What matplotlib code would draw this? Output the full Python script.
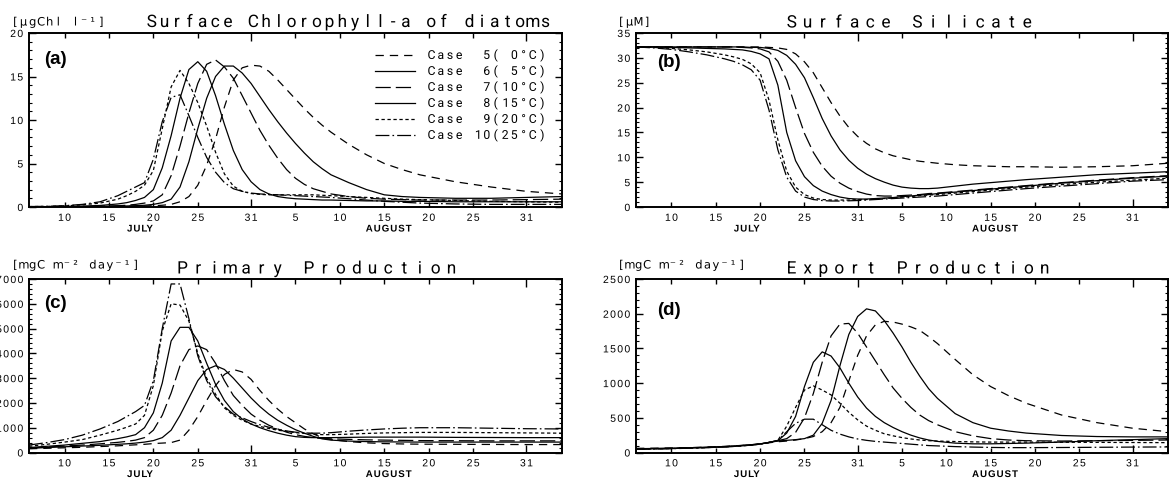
import numpy as np
import matplotlib
matplotlib.use('Agg')
import matplotlib.pyplot as plt
from matplotlib.patheffects import AbstractPathEffect
from matplotlib.textpath import TextPath
from matplotlib.path import Path
from matplotlib.font_manager import FontProperties
from matplotlib.ticker import MultipleLocator, FixedLocator, FixedFormatter

plt.rcParams['lines.scale_dashes'] = False
plt.rcParams['font.family'] = ['Liberation Sans', 'DejaVu Sans']

# ---------------- data (day counted from 1 July; 1 Aug = 32) ----------------
DAYS = [6, 8, 10, 12, 14, 16, 17, 18, 19, 20,
        21, 22, 23, 24, 25, 26, 27, 28, 29, 30,
        31, 32, 33, 34, 35, 36, 37, 38, 39, 40,
        42, 44, 46, 48, 50, 54, 58, 62, 66]

CASE_LABELS = ['Case  5( 0°C)', 'Case  6( 5°C)', 'Case  7(10°C)',
               'Case  8(15°C)', 'Case  9(20°C)', 'Case 10(25°C)']

# (a) surface chlorophyll-a of diatoms [ugChl/l]
CHL_C5 = [0.02, 0.02, 0.03, 0.04, 0.05, 0.07, 0.08, 0.10, 0.12, 0.15,
          0.2, 0.3, 0.6, 1.2, 2.5, 4.8, 7.8, 11.5, 14.6, 16.0,
          16.3, 16.2, 15.6, 14.6, 13.5, 12.4, 11.3, 10.3, 9.4, 8.6,
          7.2, 6.0, 5.0, 4.3, 3.7, 2.9, 2.3, 1.8, 1.5]
CHL_C6 = [0.02, 0.02, 0.03, 0.05, 0.07, 0.10, 0.12, 0.15, 0.2, 0.3,
          0.5, 0.9, 2.3, 5.2, 9.0, 12.5, 15.0, 16.2, 16.2, 15.4,
          14.2, 12.7, 11.2, 9.8, 8.5, 7.3, 6.2, 5.2, 4.4, 3.7,
          2.8, 2.0, 1.4, 1.2, 1.1, 1.0, 1.0, 1.1, 1.2]
CHL_C7 = [0.02, 0.03, 0.04, 0.06, 0.10, 0.15, 0.2, 0.3, 0.45, 0.7,
          1.4, 3.6, 7.0, 10.8, 14.2, 16.4, 16.9, 16.1, 14.8, 12.8,
          10.8, 8.8, 7.1, 5.6, 4.3, 3.3, 2.6, 2.1, 1.8, 1.5,
          1.2, 1.0, 0.9, 0.85, 0.8, 0.8, 0.8, 0.85, 0.9]
CHL_C8 = [0.03, 0.04, 0.06, 0.10, 0.18, 0.35, 0.5, 0.75, 1.1, 2.0,
          4.5, 8.2, 12.5, 15.8, 16.7, 15.6, 12.8, 9.5, 6.5, 4.3,
          2.9, 2.0, 1.5, 1.2, 1.05, 0.95, 0.9, 0.85, 0.8, 0.8,
          0.75, 0.7, 0.7, 0.65, 0.65, 0.6, 0.6, 0.6, 0.6]
CHL_C9 = [0.05, 0.07, 0.12, 0.25, 0.45, 0.9, 1.3, 1.8, 2.5, 4.2,
          9.0, 13.8, 15.7, 14.2, 12.0, 9.3, 6.3, 3.8, 2.4, 1.8,
          1.55, 1.45, 1.4, 1.4, 1.4, 1.4, 1.4, 1.4, 1.35, 1.3,
          1.2, 1.1, 1.0, 0.9, 0.85, 0.75, 0.65, 0.6, 0.55]
CHL_C10 = [0.05, 0.08, 0.15, 0.3, 0.6, 1.3, 1.8, 2.3, 2.8, 5.5,
           9.8, 12.6, 12.9, 10.5, 8.0, 5.7, 4.0, 2.8, 2.1, 1.8,
           1.6, 1.5, 1.45, 1.4, 1.35, 1.3, 1.25, 1.2, 1.15, 1.1,
           0.95, 0.8, 0.65, 0.55, 0.45, 0.35, 0.3, 0.3, 0.3]

# (b) surface silicate [uM]
SIL_C5 = [32.2, 32.2, 32.2, 32.2, 32.2, 32.2, 32.2, 32.2, 32.2, 32.2,
          32.1, 32.0, 31.7, 30.8, 29.2, 27.0, 24.0, 21.0, 18.3, 16.0,
          14.2, 12.8, 11.7, 10.9, 10.3, 9.9, 9.5, 9.2, 9.0, 8.8,
          8.5, 8.3, 8.2, 8.1, 8.1, 8.0, 8.1, 8.3, 8.8]
SIL_C6 = [32.2, 32.2, 32.2, 32.2, 32.2, 32.2, 32.2, 32.2, 32.1, 32.1,
          31.9, 31.5, 30.5, 28.7, 26.0, 22.0, 17.8, 14.3, 11.5, 9.4,
          7.8, 6.6, 5.7, 5.0, 4.4, 4.0, 3.8, 3.7, 3.7, 3.8,
          4.2, 4.6, 4.9, 5.2, 5.5, 6.0, 6.5, 6.8, 7.1]
SIL_C7 = [32.2, 32.2, 32.2, 32.2, 32.2, 32.2, 32.2, 32.1, 32.0, 31.8,
          31.2, 29.3, 25.5, 20.0, 14.8, 11.0, 8.2, 6.2, 4.8, 3.8,
          3.1, 2.6, 2.3, 2.2, 2.2, 2.3, 2.4, 2.5, 2.7, 2.8,
          3.1, 3.4, 3.7, 4.0, 4.3, 4.9, 5.4, 5.9, 6.3]
SIL_C8 = [32.2, 32.2, 32.1, 32.0, 31.9, 31.8, 31.7, 31.6, 31.3, 30.8,
          29.8, 24.5, 15.0, 9.3, 6.1, 4.3, 3.2, 2.5, 2.0, 1.7,
          1.6, 1.6, 1.7, 1.8, 1.9, 2.1, 2.2, 2.4, 2.5, 2.7,
          3.0, 3.3, 3.6, 3.9, 4.2, 4.8, 5.3, 5.8, 6.2]
SIL_C9 = [32.2, 32.1, 31.9, 31.6, 31.2, 30.6, 30.2, 29.7, 28.8, 27.0,
          21.5, 13.5, 7.2, 4.0, 2.5, 1.8, 1.5, 1.4, 1.4, 1.4,
          1.5, 1.5, 1.6, 1.7, 1.8, 2.0, 2.1, 2.3, 2.4, 2.5,
          2.8, 3.1, 3.4, 3.7, 4.0, 4.5, 5.0, 5.4, 5.8]
SIL_C10 = [32.2, 32.0, 31.7, 31.2, 30.6, 29.8, 29.3, 28.6, 27.6, 25.5,
           19.5, 11.5, 6.0, 3.2, 2.0, 1.5, 1.3, 1.2, 1.2, 1.25,
           1.3, 1.4, 1.5, 1.6, 1.7, 1.8, 1.9, 2.0, 2.1, 2.2,
           2.5, 2.8, 3.1, 3.4, 3.7, 4.2, 4.7, 5.2, 5.5]

# (c) primary production [mgC m-2 day-1]
PP_C5 = [150, 170, 190, 210, 240, 270, 290, 310, 330, 360,
         380, 400, 500, 900, 1450, 2100, 2700, 3150, 3350, 3250,
         2950, 2500, 2100, 1750, 1450, 1200, 950, 750, 600, 520,
         440, 390, 360, 345, 335, 330, 325, 320, 320]
PP_C6 = [170, 200, 230, 260, 290, 330, 350, 380, 420, 480,
         600, 900, 1500, 2200, 2900, 3350, 3500, 3350, 3000, 2600,
         2200, 1850, 1550, 1300, 1100, 920, 780, 650, 550, 500,
         460, 440, 430, 425, 420, 420, 420, 420, 420]
PP_C7 = [180, 220, 260, 300, 350, 410, 450, 500, 600, 900,
         1500, 2400, 3500, 4150, 4300, 4150, 3600, 2900, 2300, 1900,
         1550, 1300, 1100, 950, 820, 720, 650, 600, 570, 550,
         530, 510, 500, 490, 480, 475, 470, 470, 470]
PP_C8 = [200, 250, 300, 370, 440, 560, 630, 720, 1000, 1600,
         2800, 4500, 5050, 5050, 4500, 3600, 2750, 2100, 1650, 1350,
         1150, 1000, 880, 780, 700, 640, 610, 600, 600, 600,
         610, 620, 620, 620, 620, 610, 605, 600, 600]
PP_C9 = [250, 330, 420, 520, 700, 900, 1020, 1150, 1500, 2700,
         4900, 6000, 5950, 5300, 4000, 3000, 2350, 1800, 1500, 1300,
         1150, 1050, 970, 900, 850, 800, 770, 740, 720, 720,
         740, 770, 790, 800, 810, 810, 800, 790, 780]
PP_C10 = [300, 400, 520, 700, 950, 1250, 1450, 1650, 1900, 2900,
          5000, 6800, 6800, 5400, 3900, 2900, 2250, 1850, 1550, 1400,
          1250, 1120, 1020, 940, 870, 820, 790, 780, 780, 800,
          860, 910, 950, 980, 1000, 1000, 980, 960, 950]

# (d) export production [mgC m-2 day-1]
EP_C5 = [60, 62, 65, 70, 78, 88, 95, 103, 112, 125,
         140, 155, 165, 180, 200, 230, 300, 430, 650, 1030,
         1400, 1680, 1840, 1890, 1880, 1850, 1810, 1760, 1670, 1570,
         1340, 1120, 950, 820, 710, 540, 430, 350, 300]
EP_C6 = [55, 58, 62, 68, 76, 86, 93, 102, 112, 125,
         145, 165, 175, 185, 200, 250, 420, 750, 1250, 1700,
         1960, 2070, 2040, 1900, 1720, 1520, 1300, 1100, 920, 780,
         560, 430, 350, 310, 280, 245, 230, 225, 225]
EP_C7 = [52, 56, 60, 66, 74, 84, 91, 100, 110, 123,
         145, 170, 200, 290, 500, 850, 1300, 1680, 1850, 1860,
         1720, 1520, 1320, 1120, 930, 780, 650, 540, 460, 400,
         300, 240, 200, 180, 170, 165, 170, 175, 180]
EP_C8 = [50, 54, 58, 64, 72, 82, 89, 98, 108, 122,
         145, 170, 280, 520, 950, 1300, 1450, 1390, 1220, 1000,
         800, 640, 520, 430, 360, 300, 250, 210, 180, 160,
         135, 125, 125, 130, 135, 150, 170, 185, 200]
EP_C9 = [48, 52, 57, 63, 71, 81, 88, 97, 107, 121,
         145, 175, 380, 650, 900, 960, 900, 830, 710, 580,
         470, 380, 320, 270, 240, 215, 195, 180, 170, 165,
         158, 153, 150, 150, 150, 148, 146, 144, 142]
EP_C10 = [45, 50, 55, 62, 70, 80, 87, 96, 106, 120,
          145, 175, 300, 420, 480, 480, 400, 320, 265, 225,
          195, 175, 160, 150, 140, 130, 120, 110, 100, 95,
          85, 78, 73, 70, 70, 72, 75, 78, 80]

# axis ticks
MAJOR_DAYS = [10, 15, 20, 25, 36, 41, 46, 51, 56]
MAJOR_LABELS = ['10', '15', '20', '25', '5', '10', '15', '20', '25']
MONTH_END_DAYS = [31, 62]
MONTH_END_LABELS = ['31', '31']
MONTH_NAME_DAYS = [18.5, 46.5]
MONTH_NAMES = ['JULY', 'AUGUST']

PANELS = [
    dict(tag='(a)', units='[μgChl l⁻¹]', title='Surface Chlorophyll-a of diatoms',
         series=[CHL_C5, CHL_C6, CHL_C7, CHL_C8, CHL_C9, CHL_C10], ymax=20, major=5, minor=1),
    dict(tag='(b)', units='[μM]', title='Surface Silicate',
         series=[SIL_C5, SIL_C6, SIL_C7, SIL_C8, SIL_C9, SIL_C10], ymax=35, major=5, minor=1),
    dict(tag='(c)', units='[mgC m⁻² day⁻¹]', title='Primary Production',
         series=[PP_C5, PP_C6, PP_C7, PP_C8, PP_C9, PP_C10], ymax=7000, major=1000, minor=200),
    dict(tag='(d)', units='[mgC m⁻² day⁻¹]', title='Export Production',
         series=[EP_C5, EP_C6, EP_C7, EP_C8, EP_C9, EP_C10], ymax=2500, major=500, minor=100),
]

# ---------------- styling ----------------
LINE_STYLES = [
    dict(dashes=(6, 4.3)),
    dict(linestyle='-'),
    dict(dashes=(11, 3.6)),
    dict(linestyle='-'),
    dict(dashes=(2.4, 1.9)),
    dict(dashes=(10, 2.2, 1.2, 2.2)),
]


class Spaced(AbstractPathEffect):
    """Draw a text with every character centred in an equal-width cell
    (wide letter spacing, like the plotter font of the original)."""

    def __init__(self, text, prop, pitch_em):
        super().__init__()
        self._text = text
        self._prop = prop
        self._pitch = pitch_em * 100.0

    def draw_path(self, renderer, gc, tpath, affine, rgbFace=None):
        verts, codes = [], []
        for i, ch in enumerate(self._text):
            if ch.isspace():
                continue
            glyph = TextPath((0, 0), ch, size=100.0, prop=self._prop)
            if len(glyph.vertices) == 0:
                continue
            ext = glyph.get_extents()
            shift = (i + 0.5) * self._pitch - 0.5 * (ext.x0 + ext.x1)
            verts.append(glyph.vertices + np.array([shift, 0.0]))
            codes.append(glyph.codes)
        if verts:
            path = Path(np.concatenate(verts), np.concatenate(codes))
            renderer.draw_path(gc, path, affine, rgbFace)


class Tracking(AbstractPathEffect):
    """Add a constant extra gap between the glyphs of a text (letter spacing),
    keeping its alignment (0 left, 0.5 centre, 1 right)."""

    def __init__(self, extra_em, align):
        super().__init__()
        self._extra = extra_em * 100.0
        self._align = align

    def draw_path(self, renderer, gc, tpath, affine, rgbFace=None):
        v = np.asarray(tpath.vertices, dtype=float)
        c = tpath.codes
        if c is None or len(v) == 0:
            renderer.draw_path(gc, tpath, affine, rgbFace)
            return
        starts = list(np.flatnonzero(c == Path.MOVETO))
        ends = starts[1:] + [len(c)]
        subs = []
        for s, e in zip(starts, ends):
            m = c[s:e] != Path.CLOSEPOLY
            xs = v[s:e][m, 0]
            subs.append((xs.min(), xs.max(), s, e))
        subs.sort(key=lambda t: t[0])
        group = -1
        gmax = -np.inf
        shifts = np.zeros(len(v))
        for x0, x1, s, e in subs:
            if x0 >= gmax - 1e-6:
                group += 1
                gmax = x1
            else:
                gmax = max(gmax, x1)
            shifts[s:e] = group * self._extra
        shifts -= self._align * group * self._extra
        nv = v.copy()
        nv[:, 0] += shifts
        renderer.draw_path(gc, Path(nv, c), affine, rgbFace)


W, H = 1172.0, 480.0
fig = plt.figure(figsize=(11.72, 4.8), dpi=100)
fig.patch.set_facecolor('white')

BOXES = [(29, 33, 562, 207), (636, 33, 1168, 207),
         (29, 279, 562, 452.5), (636, 279, 1168, 452.5)]
TITLE_POS = [(145.5, 27, 12.7), (784, 27.5, 15.7), (175, 273.5, 15.8), (784, 273.5, 15.8)]
UNIT_POS = [(11, 25.5, 8.6), (617, 25.5, 8.6), (11, 268.5, 8.6), (617, 268.5, 8.6)]
TAG_POS = [(0.028, 0.845), (0.040, 0.83), (0.028, 0.86), (0.040, 0.82)]

title_fp = FontProperties(family=['Roboto', 'DejaVu Sans'], weight='normal', size=12.4)
unit_fp = FontProperties(family=['DejaVu Sans'], weight='normal', size=8.3)
legend_fp = FontProperties(family=['Roboto', 'DejaVu Sans'], weight='normal', size=8.8)
tag_fp = FontProperties(family=['Liberation Sans'], weight='bold', size=13.5)
month_fp = FontProperties(family=['Liberation Sans'], weight='bold', size=7)
TICK_SIZE = 7.5
TICK_TRACK = 0.13


def px_size(fp):
    return fp.get_size_in_points() * 100.0 / 72.0


axes = []
for k, (p, (l, t, r, b)) in enumerate(zip(PANELS, BOXES)):
    ax = fig.add_axes([l / W, 1 - b / H, (r - l) / W, (b - t) / H])
    axes.append(ax)
    for i, vals in enumerate(p['series']):
        ax.plot(DAYS, vals, color='black', lw=0.9, label=CASE_LABELS[i], **LINE_STYLES[i])
    ax.set_xlim(6, 66)
    ax.set_ylim(0, p['ymax'])
    for s in ax.spines.values():
        s.set_linewidth(1.4)
    ax.xaxis.set_major_locator(FixedLocator(MAJOR_DAYS))
    ax.xaxis.set_major_formatter(FixedFormatter(MAJOR_LABELS))
    ax.xaxis.set_minor_locator(FixedLocator(MONTH_END_DAYS))
    ax.xaxis.set_minor_formatter(FixedFormatter(MONTH_END_LABELS))
    ax.yaxis.set_major_locator(MultipleLocator(p['major']))
    ax.yaxis.set_minor_locator(MultipleLocator(p['minor']))
    ax.tick_params(axis='x', which='major', direction='in', top=True, bottom=True,
                   length=3.6, width=1.0, pad=4.2, labelsize=TICK_SIZE)
    ax.tick_params(axis='x', which='minor', direction='in', top=True, bottom=True,
                   length=6.0, width=1.0, pad=4.2, labelsize=TICK_SIZE)
    ax.tick_params(axis='y', which='major', direction='in', left=True, right=True,
                   length=5.0, width=1.0, pad=4.2, labelsize=TICK_SIZE)
    ax.tick_params(axis='y', which='minor', direction='in', left=True, right=True,
                   length=2.4, width=0.8)
    for tk in ax.xaxis.get_major_ticks() + ax.xaxis.get_minor_ticks():
        tk.label1.set_path_effects([Tracking(TICK_TRACK, 0.5)])
    for tk in ax.yaxis.get_major_ticks():
        tk.label1.set_path_effects([Tracking(TICK_TRACK, 1.0)])
    for day, name in zip(MONTH_NAME_DAYS, MONTH_NAMES):
        ax.annotate(name, xy=(day, 0), xycoords=('data', 'axes fraction'),
                    xytext=(0, -15.5), textcoords='offset points',
                    ha='center', va='center', fontproperties=month_fp,
                    path_effects=[Tracking(0.1, 0.5)])
    ax.text(*TAG_POS[k], p['tag'], transform=ax.transAxes,
            ha='left', va='center', fontproperties=tag_fp)

for p, (tx, ty, tp), (ux, uy, up) in zip(PANELS, TITLE_POS, UNIT_POS):
    fig.text(tx / W, 1 - ty / H, p['title'], ha='left', va='baseline',
             fontproperties=title_fp,
             path_effects=[Spaced(p['title'], title_fp, tp / px_size(title_fp))])
    fig.text(ux / W, 1 - uy / H, p['units'], ha='left', va='baseline',
             fontproperties=unit_fp,
             path_effects=[Spaced(p['units'], unit_fp, up / px_size(unit_fp))])

# legend in panel (a)
leg_px = px_size(legend_fp)
leg = axes[0].legend(loc='upper left', bbox_to_anchor=((375 - 29) / 533.0, (207 - 48.5) / 174.0),
                     frameon=False, prop=legend_fp, handlelength=40 / leg_px,
                     handletextpad=12 / leg_px, labelspacing=0.21,
                     borderpad=0, borderaxespad=0)
for txt in leg.get_texts():
    txt.set_path_effects([Spaced(txt.get_text(), legend_fp, 9.2 / leg_px)])

fig.savefig('out.png', dpi=100, facecolor='white')
